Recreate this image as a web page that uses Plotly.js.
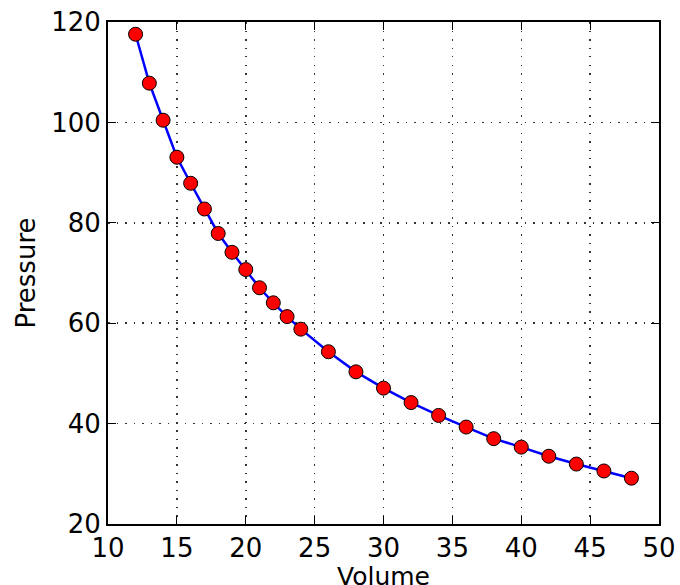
<!DOCTYPE html>
<html><head><meta charset="utf-8">
<script src="https://cdn.plot.ly/plotly-3.0.1.min.js"></script>
<style>html,body{margin:0;padding:0;background:#fff}#chart{width:680px;height:585px}</style>
</head><body><div id="chart"></div>
<script>
var volume = [12,13,14,15,16,17,18,19,20,21,22,23,24,26,28,30,32,34,36,38,40,42,44,46,48];
var pressure = [117.5625,107.8125,100.4375,93.0625,87.875,82.75,77.875,74.125,70.6875,67.0625,64.0625,61.3125,58.8125,54.3125,50.3125,47.0625,44.1875,41.625,39.3125,37,35.3125,33.5,31.9375,30.5625,29.125];
var xTicks = [10,15,20,25,30,35,40,45,50];
var yTicks = [20,40,60,80,100,120];
var xTitle = 'Volume';
var yTitle = 'Pressure';

var font = 'DejaVu Sans, sans-serif';
var axisCommon = {
  showline: true, linecolor: '#000', linewidth: 2, mirror: 'allticks',
  ticks: 'inside', ticklen: 8, tickwidth: 1, tickcolor: '#000',
  showgrid: true, gridcolor: '#333', gridwidth: 1.5, griddash: '1.5px,7px',
  zeroline: false, tickfont: {family: font, size: 26, color: '#000'}
};
var layout = {
  width: 680, height: 585,
  margin: {l: 108, r: 21, t: 22, b: 61},
  paper_bgcolor: '#fff', plot_bgcolor: '#fff',
  showlegend: false,
  xaxis: Object.assign({}, axisCommon, {
    range: [10, 50], tickvals: xTicks, ticktext: xTicks.map(String)
  }),
  yaxis: Object.assign({}, axisCommon, {
    range: [20, 120], tickvals: yTicks, ticktext: yTicks.map(String),
    title: {text: yTitle, font: {family: font, size: 26, color: '#000'}, standoff: 8}
  }),
  annotations: [{
    text: xTitle, xref: 'paper', yref: 'paper', x: 0.5, y: -0.105,
    xanchor: 'center', yanchor: 'middle', showarrow: false,
    font: {family: font, size: 25, color: '#000'}
  }]
};
var trace = {
  x: volume, y: pressure, mode: 'lines+markers', type: 'scatter',
  line: {color: '#0000ff', width: 2.5},
  marker: {color: '#ff0000', size: 14, line: {color: '#000', width: 1}},
  cliponaxis: false
};
Plotly.newPlot('chart', [trace], layout, {displayModeBar: false, staticPlot: true});
</script></body></html>
